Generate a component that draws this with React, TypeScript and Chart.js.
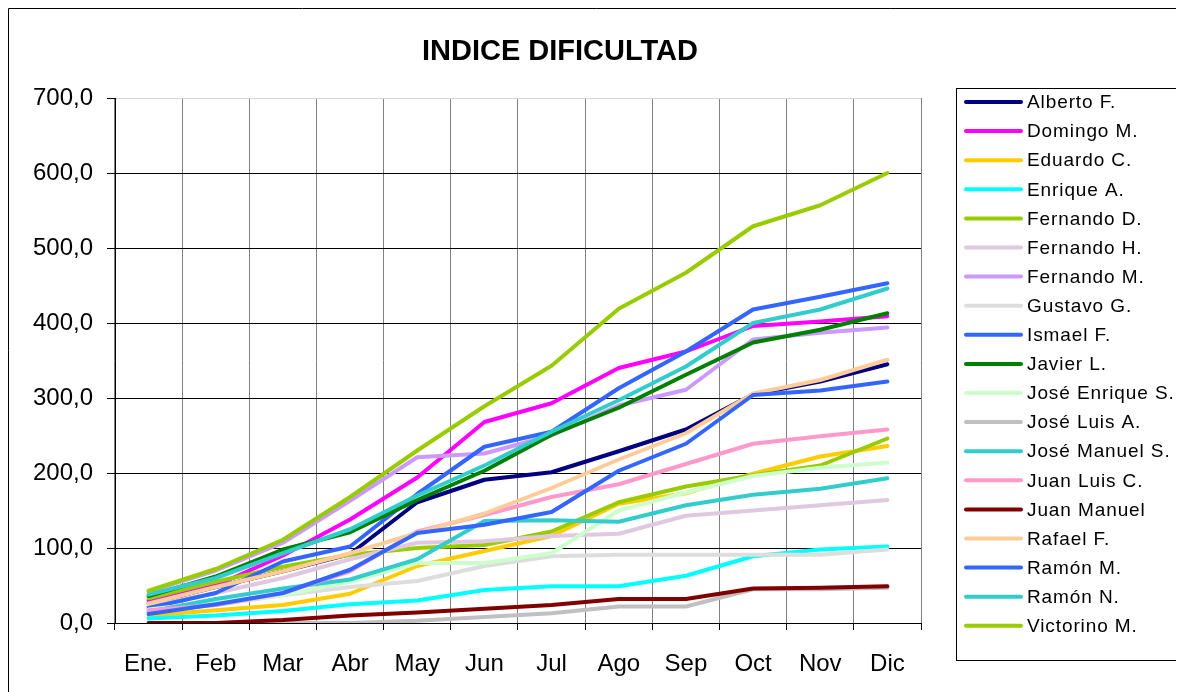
import React, { useEffect, useRef } from "react";
import { Chart, registerables } from "chart.js";

Chart.register(...registerables);

const months = ["Ene.", "Feb", "Mar", "Abr", "May", "Jun", "Jul", "Ago", "Sep", "Oct", "Nov", "Dic"];
const yTickLabels = ["0,0", "100,0", "200,0", "300,0", "400,0", "500,0", "600,0", "700,0"];

const albertoF = [26, 48, 69, 92, 161, 191, 201, 229, 258, 305, 322, 345];
const domingoM = [30, 50, 90, 138, 194, 268, 293, 340, 362, 396, 402, 409];
const eduardoC = [10, 17, 24, 39, 76, 96, 116, 159, 173, 199, 222, 236];
const enriqueA = [6, 10, 16, 25, 30, 44, 49, 49, 63, 89, 98, 102];
const fernandoD = [33, 55, 75, 91, 100, 104, 122, 161, 182, 197, 210, 246];
const fernandoH = [22, 40, 60, 85, 107, 109, 116, 119, 143, 150, 157, 164];
const fernandoM = [42, 70, 107, 163, 221, 226, 250, 290, 311, 378, 387, 394];
const gustavoG = [14, 24, 37, 48, 56, 76, 89, 91, 91, 91, 91, 98];
const ismaelF = [20, 40, 82, 102, 172, 235, 255, 313, 362, 418, 435, 453];
const javierL = [36, 62, 98, 121, 164, 203, 251, 287, 331, 374, 391, 413];
const joseEnriqueS = [18, 28, 37, 55, 80, 80, 93, 150, 174, 196, 207, 214];
const joseLuisA = [0, 0, 0, 0, 3, 8, 13, 22, 22, 45, 45, 47];
const joseManuelS = [15, 32, 46, 58, 85, 136, 137, 135, 157, 171, 179, 193];
const juanLuisC = [17, 24, 40, 69, 122, 144, 168, 185, 212, 239, 249, 258];
const juanManuel = [0, 0, 4, 10, 14, 19, 24, 32, 32, 46, 47, 49];
const rafaelF = [26, 48, 69, 93, 120, 146, 180, 218, 253, 306, 324, 351];
const ramonM = [12, 25, 40, 71, 120, 131, 148, 203, 239, 304, 310, 322];
const ramonN = [38, 60, 93, 125, 170, 210, 255, 297, 342, 400, 418, 446];
const victorinoM = [43, 72, 111, 168, 230, 289, 343, 419, 467, 529, 557, 600];

const seriesNames = [
  "Alberto F.", "Domingo M.", "Eduardo C.", "Enrique A.", "Fernando D.", "Fernando H.",
  "Fernando M.", "Gustavo G.", "Ismael F.", "Javier L.", "José Enrique S.", "José Luis A.",
  "José Manuel S.", "Juan Luis C.", "Juan Manuel", "Rafael F.", "Ramón M.", "Ramón N.", "Victorino M.",
];
const seriesValues = [
  albertoF, domingoM, eduardoC, enriqueA, fernandoD, fernandoH, fernandoM, gustavoG, ismaelF,
  javierL, joseEnriqueS, joseLuisA, joseManuelS, juanLuisC, juanManuel, rafaelF, ramonM, ramonN, victorinoM,
];
const seriesColors = [
  "#000080", "#FF00FF", "#FFCC00", "#00FFFF", "#99CC00", "#E0C8E0",
  "#CC99FF", "#DDDDDD", "#3366FF", "#008000", "#CCFFCC", "#C0C0C0",
  "#33CCCC", "#FF99CC", "#800000", "#FFCC99", "#3366FF", "#33CCCC", "#99CC00",
];

const FONT = "Arial, 'Liberation Sans', sans-serif";

const decorPlugin = {
  id: "decor",
  afterDraw(chart: any) {
    const ctx = chart.ctx;
    ctx.save();
    // outer frame (left & top visible)
    ctx.strokeStyle = "#000";
    ctx.lineWidth = 1;
    ctx.beginPath();
    ctx.moveTo(0.5, chart.height);
    ctx.lineTo(0.5, 0.5);
    ctx.lineTo(chart.width, 0.5);
    ctx.stroke();
    // title
    ctx.fillStyle = "#000";
    ctx.font = `bold 29px ${FONT}`;
    ctx.textAlign = "center";
    ctx.textBaseline = "middle";
    ctx.fillText("INDICE DIFICULTAD", 552, 44);
    // legend
    ctx.strokeStyle = "#000";
    ctx.lineWidth = 1;
    ctx.strokeRect(948.5, 80.5, 223, 572);
    ctx.font = `19px ${FONT}`;
    try { (ctx as any).letterSpacing = "0.9px"; } catch (e) {}
    ctx.textAlign = "left";
    chart.data.datasets.forEach((ds: any, i: number) => {
      const y = 94 + i * 29.1;
      ctx.strokeStyle = ds.borderColor;
      ctx.lineWidth = 4;
      ctx.lineCap = "round";
      ctx.beginPath();
      ctx.moveTo(958, y);
      ctx.lineTo(1013, y);
      ctx.stroke();
      ctx.fillStyle = "#000";
      ctx.fillText(ds.label, 1019, y + 1);
    });
    ctx.restore();
  },
};

export default function App() {
  const ref = useRef<HTMLCanvasElement>(null);
  useEffect(() => {
    document.body.style.overflow = "hidden";
    const n = seriesNames.length;
    const chart = new Chart(ref.current as HTMLCanvasElement, {
      type: "line",
      data: {
        labels: months,
        datasets: seriesNames.map((name, i) => ({
          label: name,
          data: seriesValues[i],
          borderColor: seriesColors[i],
          backgroundColor: seriesColors[i],
          borderWidth: 4,
          pointRadius: 0,
          tension: 0,
          borderJoinStyle: "round",
          borderCapStyle: "round",
          order: n - 1 - i,
        })),
      },
      options: {
        animation: false,
        responsive: false,
        layout: { padding: { top: 90, right: 263, bottom: 0, left: 0 } },
        plugins: { legend: { display: false }, title: { display: false }, tooltip: { enabled: false } },
        scales: {
          x: {
            offset: true,
            grid: { offset: true, color: "#808080", lineWidth: 1, tickLength: 7, tickColor: "#000" },
            border: { color: "#000", width: 1 },
            ticks: { color: "#000", font: { size: 24, family: FONT }, padding: 20, maxRotation: 0, autoSkip: false },
            afterFit: (s: any) => { s.height = 69; },
          },
          y: {
            min: 0,
            max: 700,
            grid: {
              color: (c: any) => (c.tick && c.tick.value === 700 ? "#d4d4d4" : "#000"),
              lineWidth: 1,
              tickLength: 8,
              tickColor: "#000",
            },
            border: { color: "#000", width: 1 },
            ticks: {
              stepSize: 100,
              color: "#000",
              font: { size: 24, family: FONT },
              padding: 14,
              callback: (v: any) => yTickLabels[Math.round(Number(v) / 100)],
            },
            afterFit: (s: any) => { s.width = 107; },
          },
        },
      },
      plugins: [decorPlugin],
    });
    return () => chart.destroy();
  }, []);
  return (
    <div style={{ width: 1176, height: 684 }}>
      <canvas ref={ref} width={1176} height={684} style={{ display: "block" }} />
    </div>
  );
}
